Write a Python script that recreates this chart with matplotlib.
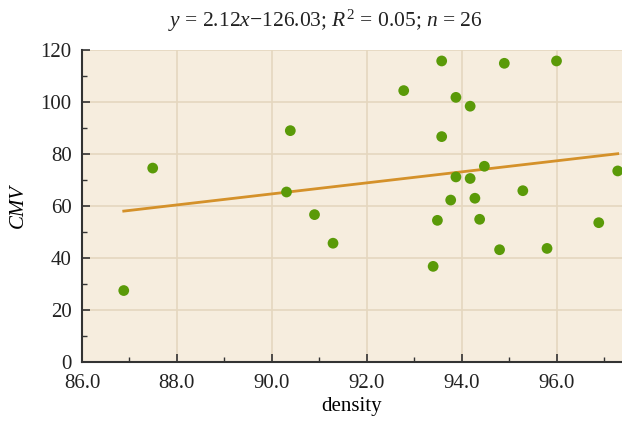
import numpy as np
import matplotlib
matplotlib.use("Agg")
import matplotlib.pyplot as plt
from matplotlib.ticker import MultipleLocator, FormatStrFormatter

# values
density = [86.88, 87.49, 90.31, 90.39, 90.90, 91.29, 92.78, 93.40, 93.49, 93.58,
           93.58, 93.77, 93.88, 93.88, 94.18, 94.18, 94.28, 94.38, 94.48, 94.80,
           94.90, 95.29, 95.80, 96.00, 96.89, 97.29]
cmv = [27.6, 74.7, 65.5, 89.1, 56.8, 45.8, 104.5, 36.9, 54.6, 115.9,
       86.8, 62.4, 101.9, 71.3, 98.5, 70.7, 63.1, 55.0, 75.4, 43.3,
       115.0, 66.0, 43.8, 115.9, 53.7, 73.6]
slope, intercept = 2.12, -126.03
title = r"$y$ = 2.12$x$$-$126.03; $R^2$ = 0.05; $n$ = 26"

plt.rcParams['font.family'] = ['Liberation Serif', 'DejaVu Serif']
plt.rcParams['mathtext.fontset'] = 'custom'
plt.rcParams['mathtext.rm'] = 'Liberation Serif'
plt.rcParams['mathtext.it'] = 'Liberation Serif:italic'

fig = plt.figure(figsize=(6.22, 4.22), dpi=100)
ax = fig.add_axes([82 / 622, 1 - 362.3 / 422, 1 - 82 / 622, (362.3 - 50.3) / 422])
ax.set_facecolor('#F6EDDE')

ax.grid(True, color='#E5D7BF', linewidth=1.2, zorder=0)
ax.set_axisbelow(True)

xs = np.array([min(density), max(density)])
ax.plot(xs, slope * xs + intercept, color='#D4912A', linewidth=2, zorder=2)
ax.scatter(density, cmv, s=60, color='#5A9A08', edgecolors='none', zorder=3)

ax.set_xlim(86, 97.38)
ax.set_ylim(0, 120)
ax.xaxis.set_major_locator(MultipleLocator(2))
ax.xaxis.set_minor_locator(MultipleLocator(1))
ax.xaxis.set_major_formatter(FormatStrFormatter('%.1f'))
ax.yaxis.set_major_locator(MultipleLocator(20))
ax.yaxis.set_minor_locator(MultipleLocator(10))

ax.tick_params(which='both', direction='in', labelsize=15, color='#333333',
               labelcolor='#222222')
ax.tick_params(which='major', length=6, width=1.2)
ax.tick_params(which='minor', length=3.5, width=1)
ax.tick_params(axis='y', pad=7.5)
ax.tick_params(axis='x', pad=8.5)

for side in ['top', 'right']:
    ax.spines[side].set_visible(False)
for side in ['left', 'bottom']:
    ax.spines[side].set_color('#333333')
    ax.spines[side].set_linewidth(1.5)

ax.set_xlabel('density', fontsize=15, labelpad=3)
ax.set_ylabel('CMV', fontsize=15, fontstyle='italic', labelpad=9)

# title sits a bit left of the axes centre in the reference
fig.text(325 / 622, 1 - 21 / 422, title, fontsize=15.5, ha='center', va='center',
         color='#222222')

fig.savefig('out.png', dpi=100)
